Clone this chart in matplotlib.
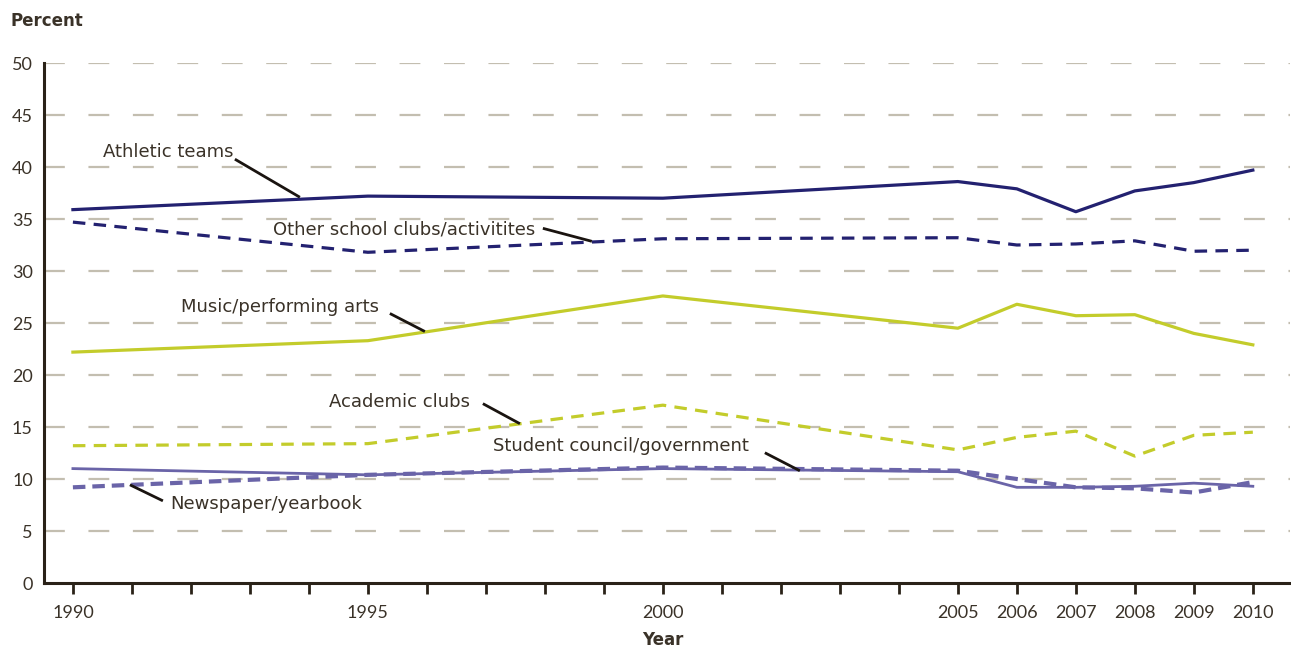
import matplotlib
matplotlib.use("Agg")
import matplotlib.pyplot as plt

plt.rcParams['font.family'] = ['Lato', 'DejaVu Sans']
plt.rcParams['lines.scale_dashes'] = False

years = [1990, 1995, 2000, 2005, 2006, 2007, 2008, 2009, 2010]
athletic = [35.9, 37.2, 37.0, 38.6, 37.9, 35.7, 37.7, 38.5, 39.7]
other_clubs = [34.7, 31.8, 33.1, 33.2, 32.5, 32.6, 32.9, 31.9, 32.0]
music = [22.2, 23.3, 27.6, 24.5, 26.8, 25.7, 25.8, 24.0, 22.9]
academic = [13.2, 13.4, 17.1, 12.8, 14.0, 14.6, 12.2, 14.2, 14.5]
student_council = [11.0, 10.4, 11.0, 10.7, 9.2, 9.2, 9.3, 9.6, 9.3]
newspaper = [9.2, 10.4, 11.1, 10.8, 10.0, 9.2, 9.1, 8.7, 9.7]

x_tick_years = list(range(1990, 2011))
x_label_years = [1990, 1995, 2000, 2005, 2006, 2007, 2008, 2009, 2010]
y_ticks = [0, 5, 10, 15, 20, 25, 30, 35, 40, 45, 50]

NAVY = '#232170'
GREEN = '#c3cc2b'
PURPLE = '#6a64a8'
GRID = '#c3beb0'
DARK = '#2a2218'
TEXT = '#3a3228'
LABEL_FONT = ['DejaVu Sans']

fig = plt.figure(figsize=(12.91, 6.56), dpi=100)
ax = fig.add_axes([44/1291, 73/656, 1246/1291, 520/656])
ax.set_xlim(1989.51, 2010.63)
ax.set_ylim(0, 50)

for v in y_ticks[1:]:
    ax.axhline(v, color=GRID, lw=1.6, dashes=(15, 17), zorder=1)

ax.plot(years, athletic, color=NAVY, lw=2.3, zorder=3)
ax.plot(years, other_clubs, color=NAVY, lw=2.3, dashes=(9, 6), zorder=3)
ax.plot(years, music, color=GREEN, lw=2.3, zorder=3)
ax.plot(years, academic, color=GREEN, lw=2.3, dashes=(9, 6), zorder=3)
ax.plot(years, student_council, color=PURPLE, lw=2.0, zorder=3)
ax.plot(years, newspaper, color=PURPLE, lw=3.0, dashes=(9, 5), zorder=4)

for s in ['top', 'right']:
    ax.spines[s].set_visible(False)
for s in ['left', 'bottom']:
    ax.spines[s].set_color(DARK)
    ax.spines[s].set_linewidth(2.2)

ax.set_yticks(y_ticks)
ax.set_yticklabels([str(v) for v in y_ticks])
ax.tick_params(axis='y', length=0, pad=8, labelsize=13, labelcolor=TEXT)
ax.set_xticks(x_tick_years)
ax.set_xticklabels([str(y) if y in x_label_years else '' for y in x_tick_years])
ax.tick_params(axis='x', length=8, width=2, color=DARK, direction='out', pad=8, labelsize=13, labelcolor=TEXT)

fig.text(10/1291, 1 - 21/656, 'Percent', fontsize=12, fontweight='bold', color=TEXT,
         va='center', ha='left', family=LABEL_FONT)
fig.text(663/1291, 1 - 640/656, 'Year', fontsize=12, fontweight='bold', color=TEXT,
         va='center', ha='center', family=LABEL_FONT)

def px2d(px, py):
    return 1990 + (px - 73) / 59.0, (583 - py) / 10.38

labels = [
    ('Athletic teams', (103, 153), (235, 160), (300, 198)),
    ('Other school clubs/activitites', (273, 230), (543, 229), (592, 242)),
    ('Music/performing arts', (181, 308), (390, 314), (425, 332)),
    ('Academic clubs', (329, 402), (483, 404), (520, 424)),
    ('Student council/government', (493, 446), (765, 453), (800, 471)),
    ('Newspaper/yearbook', (170, 504), (163, 501), (130, 485)),
]
for txt, tpos, l0, l1 in labels:
    tx, ty = px2d(*tpos)
    ax.text(tx, ty, txt, fontsize=13, color=TEXT, ha='left', va='center', zorder=5,
            family=LABEL_FONT)
    x0, y0 = px2d(*l0)
    x1, y1 = px2d(*l1)
    ax.plot([x0, x1], [y0, y1], color='#1a1410', lw=2.0, zorder=5, solid_capstyle='butt')

fig.savefig('out.png', dpi=100)
